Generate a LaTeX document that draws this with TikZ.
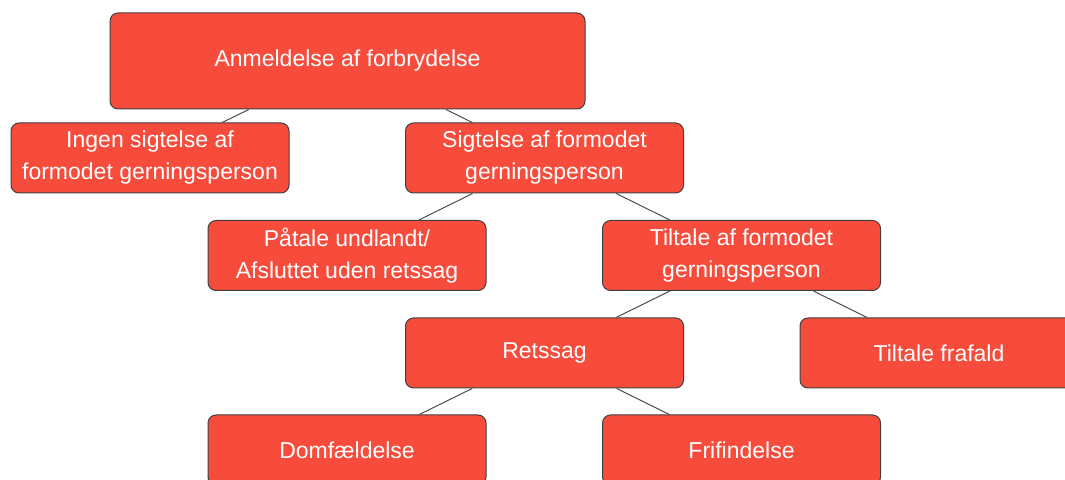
\documentclass[tikz,border=0pt]{standalone}
\usepackage{fontspec}
\setmainfont{Liberation Sans}
\definecolor{boxred}{RGB}{247,76,60}
\begin{document}
\begin{tikzpicture}[x=0.5pt,y=-0.5pt,font=\fontsize{11.5}{16}\selectfont,
	box/.style={draw=black!75,fill=boxred,text=white,rounded corners=4pt,line width=0.5pt,minimum width=139pt,minimum height=35pt,align=center,inner sep=0pt},
	link/.style={draw=black!70,line width=0.5pt}]
	%frame
	\useasboundingbox (0,0) rectangle (1065,480);
	\clip (0,0) rectangle (1065,480);

	%boxes
	\node[box,minimum width=237.5pt,minimum height=48pt] (anm) at (347.5,61) {Anmeldelse af forbrydelse}; %top
	\node[box] (ingen) at (150,158) {Ingen sigtelse af\\formodet gerningsperson};
	\node[box] (sigt) at (544.5,158) {Sigtelse af formodet\\gerningsperson};
	\node[box] (paatale) at (347,255.5) {Påtale undlandt/\\Afsluttet uden retssag};
	\node[box] (tiltale) at (741.5,255.5) {Tiltale af formodet\\gerningsperson};
	\node[box] (retssag) at (544.5,353) {Retssag};
	\node[box] (frafald) at (939,353) {Tiltale frafald}; %cut off at the right
	\node[box] (domf) at (347,450) {Domfældelse}; %cut off at the bottom
	\node[box] (frifind) at (741.5,450) {Frifindelse};

	%links
	\draw[link] (anm) -- (ingen);
	\draw[link] (anm) -- (sigt);
	\draw[link] (sigt) -- (paatale);
	\draw[link] (sigt) -- (tiltale);
	\draw[link] (tiltale) -- (retssag);
	\draw[link] (tiltale) -- (frafald);
	\draw[link] (retssag) -- (domf);
	\draw[link] (retssag) -- (frifind);
\end{tikzpicture}
\end{document}
